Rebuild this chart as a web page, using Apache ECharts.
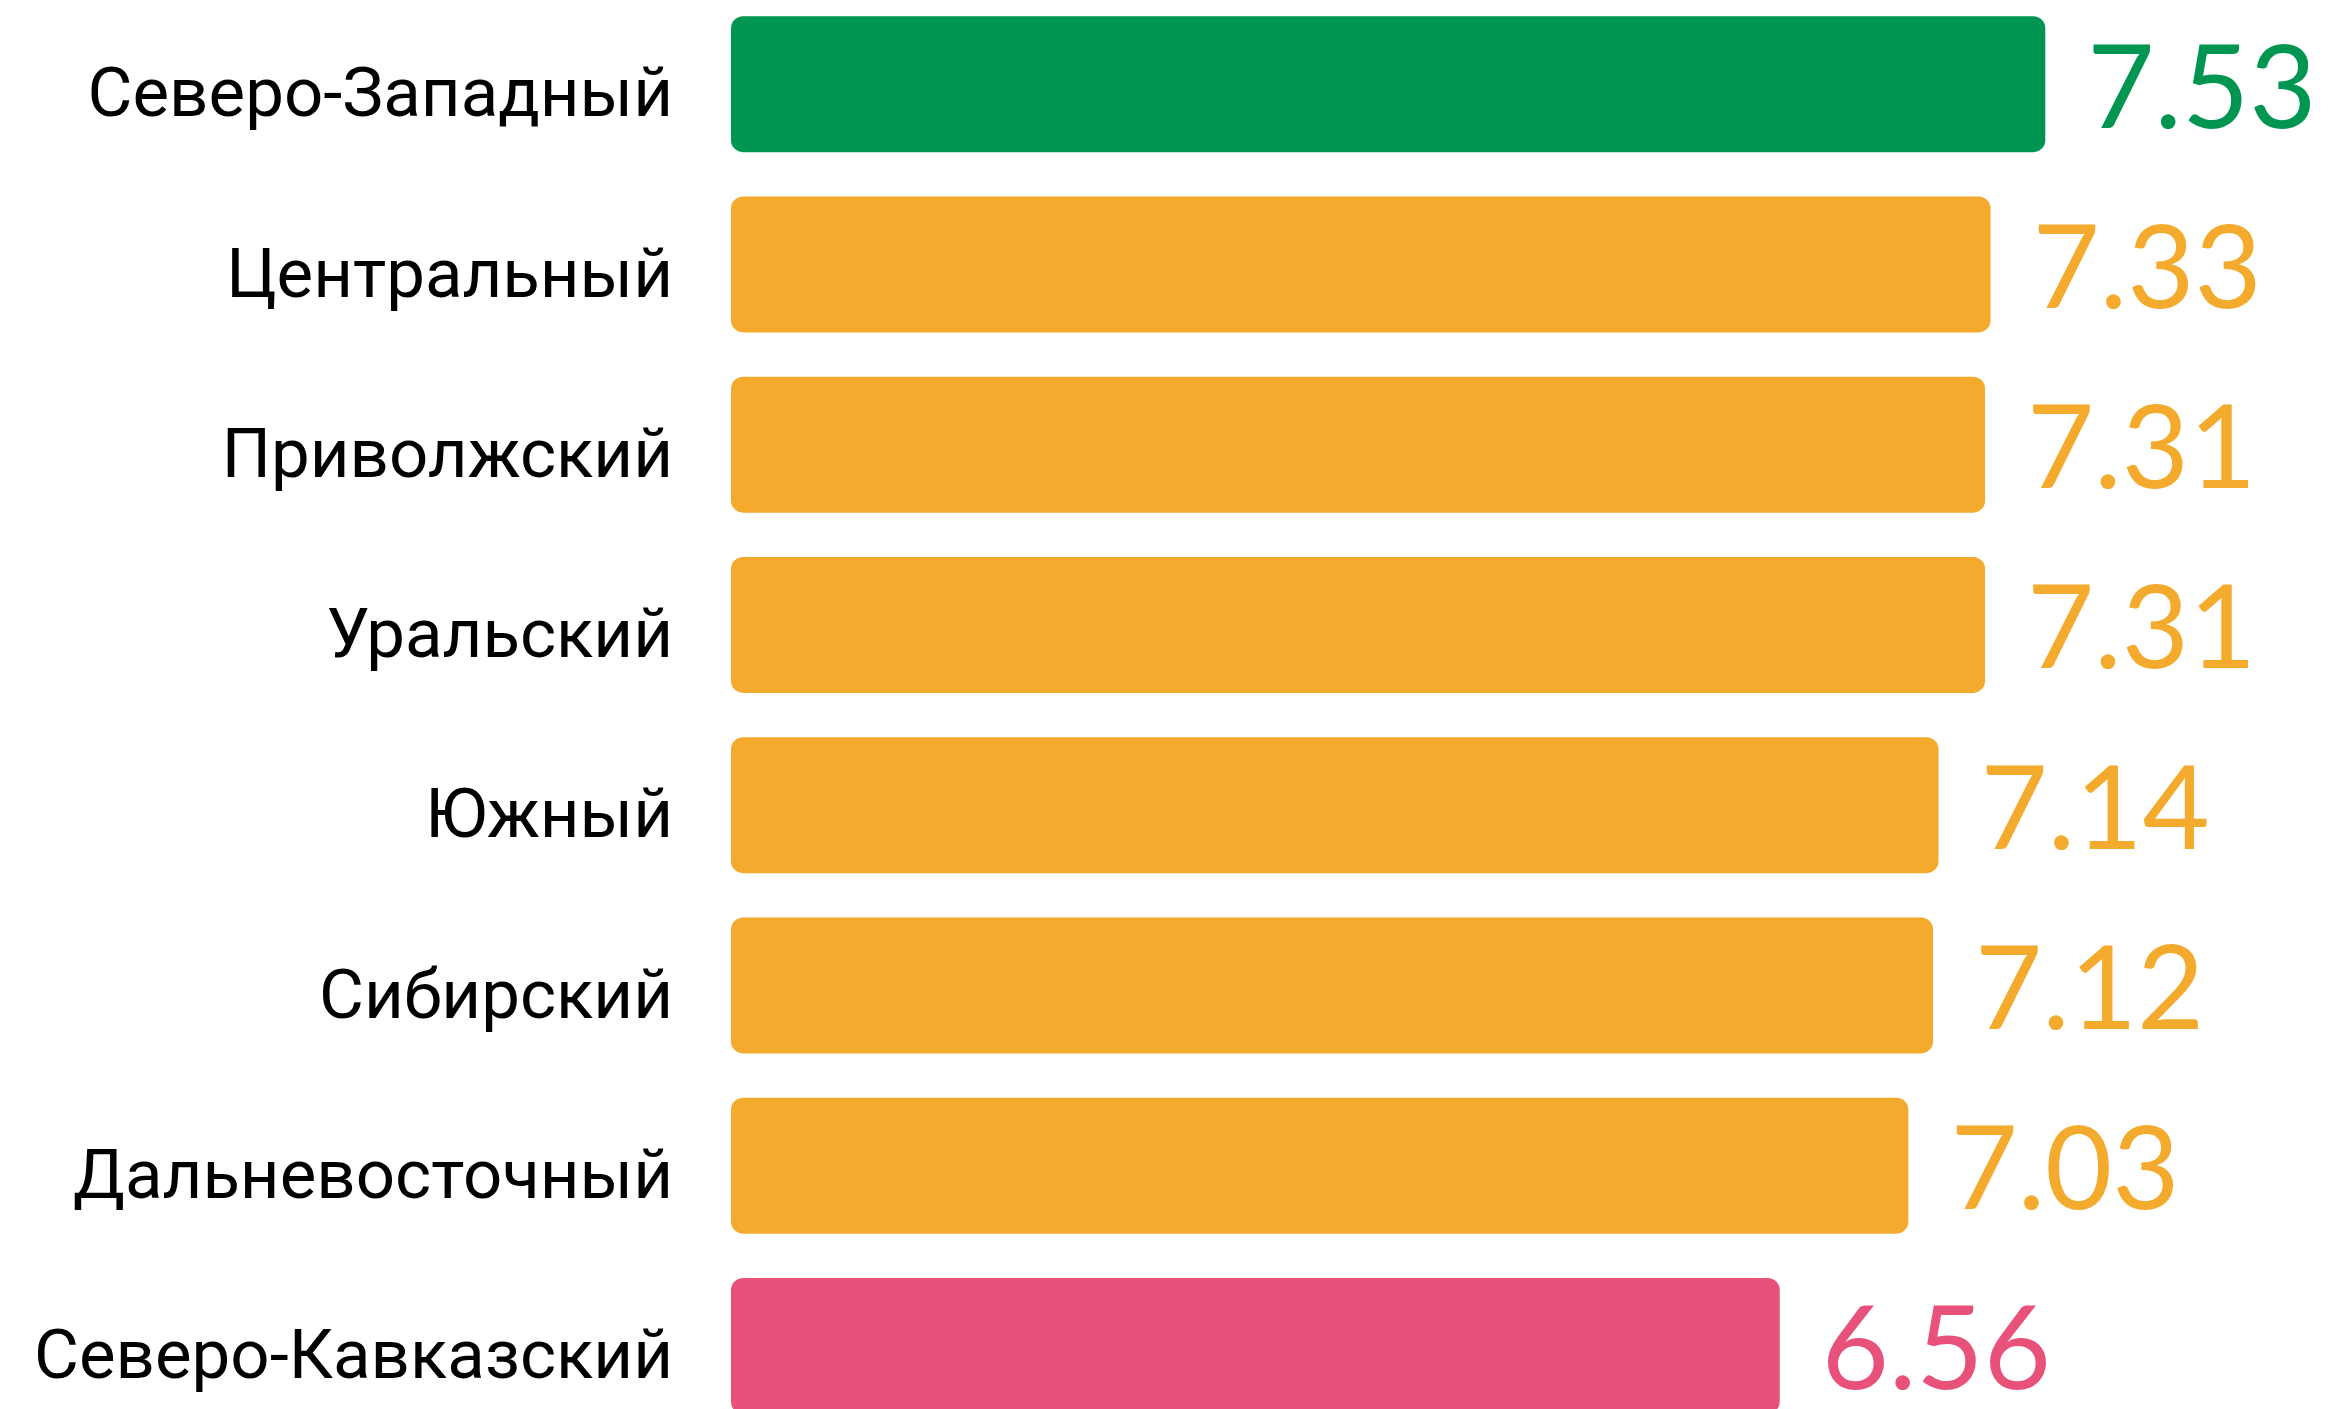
<!DOCTYPE html>
<html>
<head>
<meta charset="utf-8">
<script src="https://cdn.jsdelivr.net/npm/echarts@6/dist/echarts.min.js"></script>
<style>
html,body{margin:0;padding:0;background:#fff;}
#chart{width:2331px;height:1409px;}
</style>
</head>
<body>
<div id="chart"></div>
<script>
const categories = ['Северо-Западный','Центральный','Приволжский','Уральский','Южный','Сибирский','Дальневосточный','Северо-Кавказский'];
const values = [7.53, 7.33, 7.31, 7.31, 7.14, 7.12, 7.03, 6.56];
const barColors = ['#009652','#F4AA2C','#F4AA2C','#F4AA2C','#F4AA2C','#F4AA2C','#F4AA2C','#E8527A'];

const chart = echarts.init(document.getElementById('chart'));
chart.setOption({
  animation: false,
  backgroundColor: '#ffffff',
  grid: { left: 731, top: -6, width: 1443, height: 1442, containLabel: false, outerBoundsMode: 'none' },
  xAxis: {
    type: 'value', min: 2.73, max: 8,
    show: false
  },
  yAxis: {
    type: 'category', inverse: true, data: categories,
    axisLine: { show: false }, axisTick: { show: false }, splitLine: { show: false },
    axisLabel: {
      margin: 58,
      formatter: v => '{n|' + v + '}',
      rich: { n: { fontFamily: 'Roboto', fontSize: 69, color: '#000', padding: [30, 0, 0, 0] } }
    }
  },
  series: [{
    type: 'bar',
    barWidth: 136,
    data: values.map((v, i) => ({
      value: v,
      itemStyle: { color: barColors[i], borderRadius: 12 },
      label: { color: barColors[i] }
    })),
    label: {
      show: true, position: 'right', distance: 42, offset: [0, 6],
      fontFamily: 'Lato', fontSize: 116, fontWeight: 400,
      formatter: p => p.value.toFixed(2)
    }
  }]
});
</script>
</body>
</html>
